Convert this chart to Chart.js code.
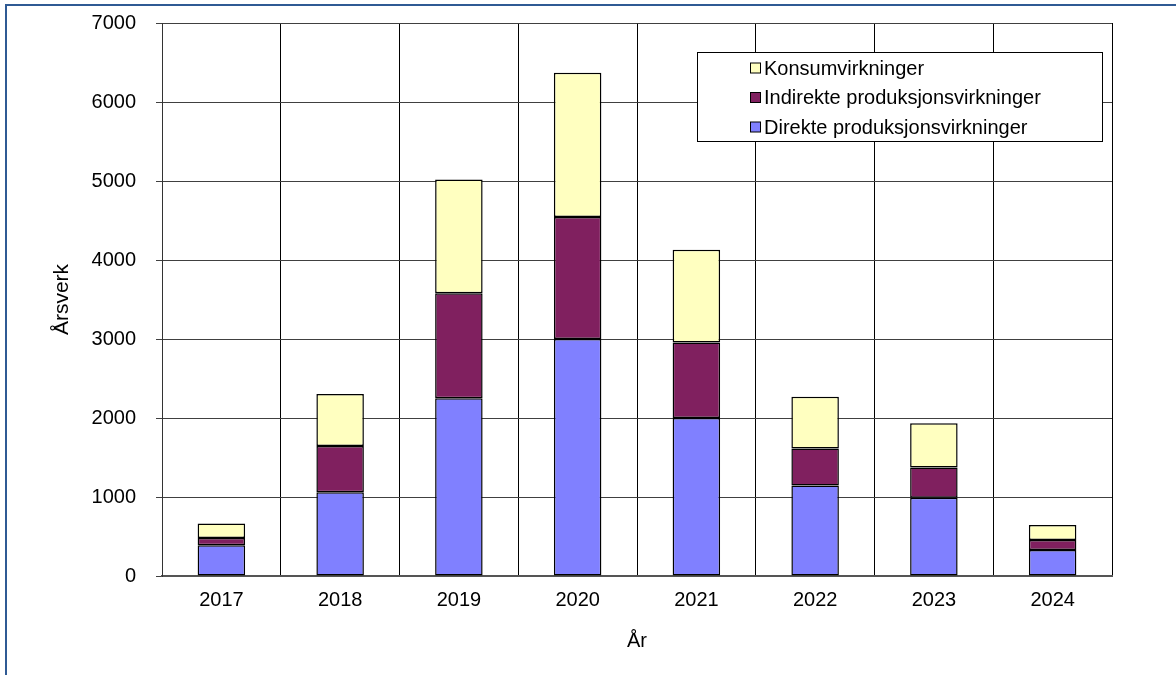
<!DOCTYPE html>
<html>
<head>
<meta charset="utf-8">
<title>Årsverk</title>
<script src="https://cdn.jsdelivr.net/npm/chart.js@4/dist/chart.umd.min.js"></script>
<style>
  html, body { margin: 0; padding: 0; background: #fff; overflow: hidden; }
  #wrap { position: relative; width: 1176px; height: 675px; }
  #frame {
    position: absolute; left: 5px; top: 4px; width: 1200px; height: 700px;
    border-left: 2px solid #2f5a94; border-top: 2px solid #2f5a94;
    pointer-events: none;
  }
</style>
</head>
<body>
<div id="wrap">
  <canvas id="chart" width="1176" height="675"></canvas>
  <div id="frame"></div>
</div>
<script>
var years = ['2017', '2018', '2019', '2020', '2021', '2022', '2023', '2024'];
var direkte = [390, 1060, 2250, 3000, 2000, 1145, 990, 330];
var indirekte = [90, 585, 1330, 1545, 955, 470, 385, 125];
var konsum = [185, 660, 1440, 1825, 1175, 655, 560, 190];
var yTicks = [0, 1000, 2000, 3000, 4000, 5000, 6000, 7000];

var font = "'Liberation Sans', Arial, sans-serif";

// boxed legend inside the plot, top right, last series first
var boxLegend = {
    id: 'boxLegend',
    afterDraw: function (chart) {
        var ctx = chart.ctx;
        var x = 697.5, y = 52.5, w = 405, h = 89;
        ctx.save();
        ctx.fillStyle = '#fff';
        ctx.fillRect(x, y, w, h);
        ctx.strokeStyle = '#000';
        ctx.lineWidth = 1;
        ctx.strokeRect(x, y, w, h);
        ctx.font = '20px ' + font;
        ctx.textBaseline = 'middle';
        var sets = chart.data.datasets.slice().reverse();
        sets.forEach(function (ds, i) {
            var cy = 68 + i * 29.5;
            ctx.fillStyle = ds.backgroundColor;
            ctx.fillRect(750.5, cy - 5, 10, 10);
            ctx.strokeStyle = '#000';
            ctx.strokeRect(750.5, cy - 5, 10, 10);
            ctx.fillStyle = '#000';
            ctx.fillText(ds.label, 764, cy + 1);
        });
        ctx.restore();
    }
};

var ctx = document.getElementById('chart');
var myChart = new Chart(ctx, {
    type: 'bar',
    data: {
        labels: years,
        datasets: [{
            label: 'Direkte produksjonsvirkninger',
            data: direkte,
            backgroundColor: '#8080ff',
            borderColor: '#000'
        }, {
            label: 'Indirekte produksjonsvirkninger',
            data: indirekte,
            backgroundColor: '#80205f',
            borderColor: '#000'
        }, {
            label: 'Konsumvirkninger',
            data: konsum,
            backgroundColor: '#ffffc0',
            borderColor: '#000'
        }]
    },
    options: {
        responsive: false,
        animation: false,
        layout: {
            padding: { top: 23, right: 64, left: 0, bottom: 0 }
        },
        datasets: {
            bar: {
                borderWidth: 1.5,
                borderSkipped: false,
                barPercentage: 0.4,
                categoryPercentage: 1
            }
        },
        scales: {
            x: {
                stacked: true,
                grid: { color: '#000', lineWidth: 1, tickLength: 0 },
                border: { color: '#555', width: 2 },
                ticks: { color: '#000', padding: 12, font: { family: font, size: 20 } },
                title: {
                    display: true, text: 'År', color: '#000',
                    padding: { bottom: 22 },
                    font: { family: font, size: 20 }
                },
                afterFit: function (scale) {
                    scale.height = 99;
                    scale.paddingLeft = 0;
                    scale.paddingRight = 0;
                }
            },
            y: {
                stacked: true,
                min: 0,
                max: 7000,
                afterBuildTicks: function (scale) {
                    scale.ticks = yTicks.map(function (v) { return { value: v }; });
                },
                grid: { color: '#404040', lineWidth: 1, tickLength: 6 },
                border: { color: '#333', width: 1 },
                ticks: {
                    color: '#000', padding: 20, font: { family: font, size: 20 },
                    callback: function (v) { return String(v); }
                },
                title: {
                    display: true, text: 'Årsverk', color: '#000',
                    padding: { top: 50 },
                    font: { family: font, size: 21 }
                },
                afterFit: function (scale) {
                    scale.width = 162;
                    scale.paddingTop = 0;
                    scale.paddingBottom = 0;
                }
            }
        },
        plugins: {
            legend: { display: false },
            tooltip: { enabled: false }
        }
    },
    plugins: [boxLegend]
});
</script>
</body>
</html>
